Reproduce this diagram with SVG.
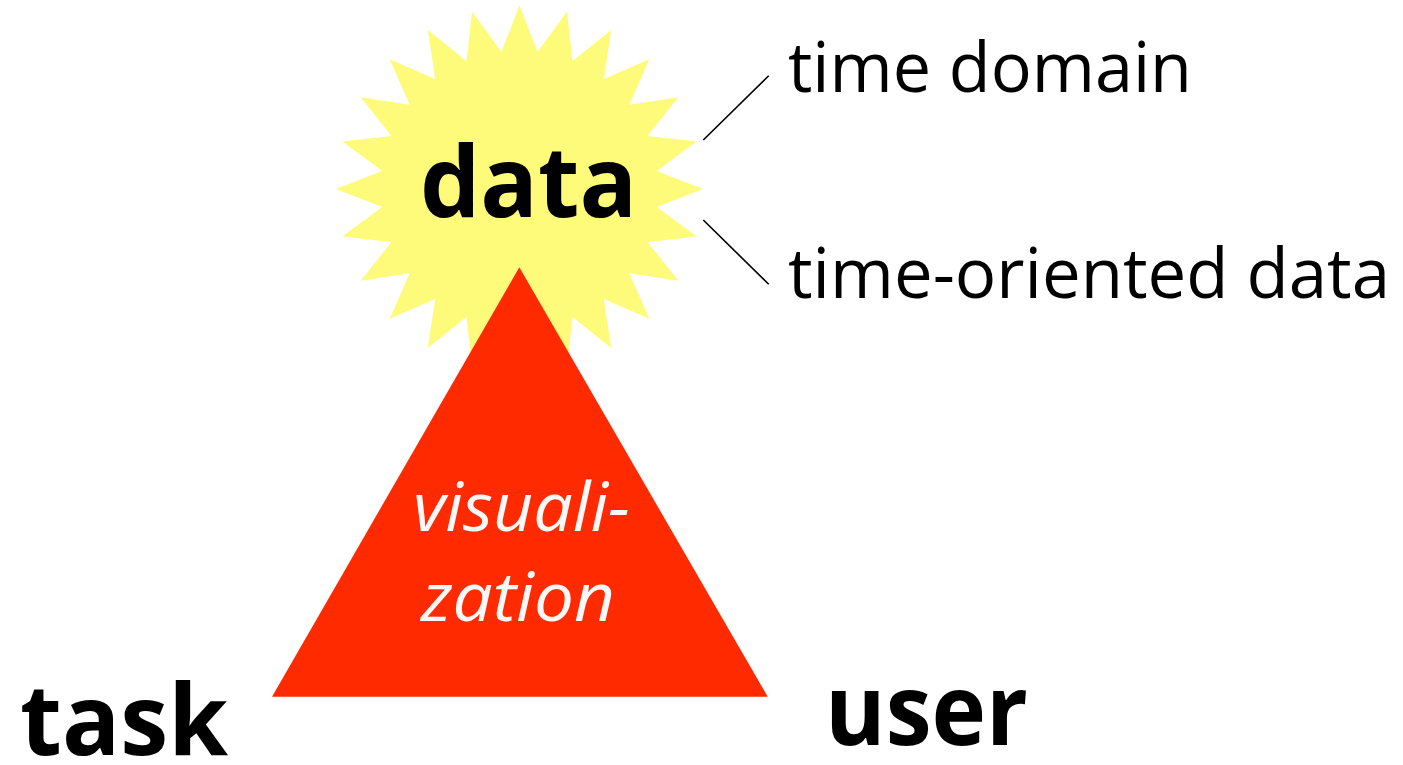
<svg xmlns="http://www.w3.org/2000/svg" width="1403" height="765" viewBox="0 0 1403 765">
  <style>
    .bold { font-family: "Open Sans", "Noto Sans", "DejaVu Sans", sans-serif; font-weight: 700; fill: #000; }
    .label { font-family: "Open Sans", "Noto Sans", "DejaVu Sans", sans-serif; font-weight: 400; fill: #000; }
    .vis { font-family: "Open Sans", "Noto Sans", "DejaVu Sans", sans-serif; font-style: italic; font-weight: 400; fill: #f8f8f8; }
    .link { stroke: #000; stroke-width: 1.6; fill: none; }
  </style>
  <rect width="1403" height="765" fill="#ffffff"/>

  <!-- 24-point starburst behind the word "data" -->
  <g id="data">
    <polygon fill="#FFFB7A" points="519.5,5.5 537.57,51.69 567,11.76 572.5,61.04 611.25,30.09 603.82,79.11 649.25,59.25 629.39,104.68 678.4,97.25 647.46,136 696.7,141.5 656.81,170.93 703,189 656.81,207.07 696.7,236.5 647.46,242 678.4,280.75 629.39,273.32 649.25,318.75 603.82,298.89 611.25,347.9 572.5,316.96 567,366.24 537.57,326.31 519.5,372.5 501.43,326.31 472,366.24 466.5,316.96 427.75,347.9 435.18,298.89 389.75,318.75 409.61,273.32 360.6,280.75 391.54,242 342.3,236.5 382.19,207.07 336,189 382.19,170.93 342.3,141.5 391.54,136 360.6,97.25 409.61,104.68 389.75,59.25 435.18,79.11 427.75,30.09 466.5,61.04 472,11.76 501.43,51.69"/>
    <text class="bold" x="420" y="217" font-size="98" textLength="217" lengthAdjust="spacingAndGlyphs">data</text>
  </g>

  <!-- red triangle -->
  <g id="visualization">
    <polygon fill="#FF2A00" points="519.3,267.3 767.7,696.7 272,696.7"/>
    <text class="vis" x="413" y="531" font-size="67" textLength="217" lengthAdjust="spacingAndGlyphs">visuali-</text>
    <text class="vis" x="421" y="621" font-size="67" textLength="194" lengthAdjust="spacingAndGlyphs">zation</text>
  </g>

  <g id="time-domain">
    <text class="label" x="788" y="92" font-size="69" textLength="404" lengthAdjust="spacingAndGlyphs">time domain</text>
  </g>
  <g id="time-oriented-data">
    <text class="label" x="788" y="298" font-size="69" textLength="602" lengthAdjust="spacingAndGlyphs">time-oriented data</text>
  </g>

  <g id="task">
    <text class="bold" x="20" y="755" font-size="98" textLength="208" lengthAdjust="spacingAndGlyphs">task</text>
  </g>
  <g id="user">
    <text class="bold" x="825" y="745" font-size="98" textLength="203" lengthAdjust="spacingAndGlyphs">user</text>
  </g>

  <!-- leader lines from the starburst to its labels -->
  <g id="connectors">
    <line class="link" x1="703.3" y1="140" x2="768.7" y2="75.7"/>
    <line class="link" x1="703.3" y1="220" x2="768.7" y2="284.3"/>
  </g>
</svg>
